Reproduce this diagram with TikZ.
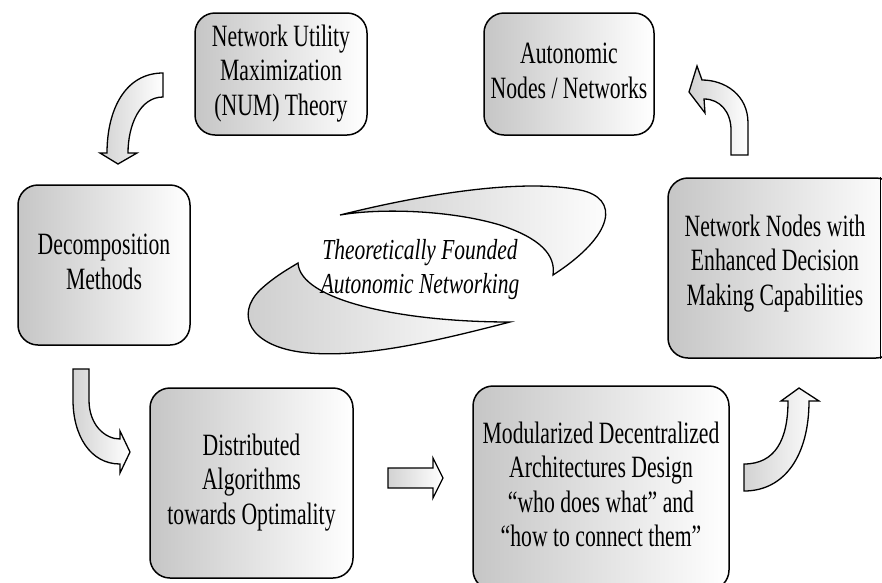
\documentclass[tikz,border=0pt]{standalone}
\usepackage{fontspec}
\setmainfont{Liberation Serif}
\usepackage{graphicx}
\newcommand{\sqtext}[1]{\scalebox{0.70}[1]{\begin{tabular}{@{}c@{}}#1\end{tabular}}}
\newcommand{\sqital}[1]{\scalebox{0.74}[1]{\begin{tabular}{@{}c@{}}#1\end{tabular}}}
\begin{document}
\begin{tikzpicture}[x=1pt,y=-1pt,
  box/.style={draw, line width=1.5pt, rounded corners=20pt, left color=gray!45, right color=white, inner sep=0pt, font=\fontsize{31}{34.5}\selectfont},
  txt/.style={font=\fontsize{31}{34.5}\selectfont, inner sep=0pt},
  barrow/.style={draw, line width=1.3pt, line join=miter, left color=gray!35, right color=white},
  swoosh/.style={draw, line width=1.3pt, left color=gray!40, right color=white}]
\useasboundingbox (0,0) rectangle (882,582);

% boxes
\node[box, minimum width=172pt, minimum height=122pt] (num) at (281,74) {\sqtext{Network Utility\\Maximization\\(NUM) Theory}};
\node[box, minimum width=170pt, minimum height=122pt] (aut) at (569,74) {\sqtext{Autonomic\\Nodes / Networks}};
\node[box, minimum width=172pt, minimum height=160pt] (dec) at (104,265) {\sqtext{Decomposition\\Methods}};
\node[box, minimum width=228pt, minimum height=180pt] (nn) at (782,268) {};
\node[txt] (nntext) at (775,264) {\sqtext{Network Nodes with\\Enhanced Decision\\Making Capabilities}};
\coordinate (rx) at (880.5,0);
\draw[line width=1.5pt] (nn.north -| rx) -- (nn.south -| rx);
\node[box, minimum width=203pt, minimum height=190pt] (dist) at (251.5,483) {\sqtext{Distributed\\Algorithms\\towards Optimality}};
\node[box, minimum width=256pt, minimum height=204pt] (mod) at (601,488) {\sqtext{Modularized Decentralized\\Architectures Design\\``who does what'' and\\``how to connect them''}};

% central swoosh
\path[swoosh] (340,215) .. controls (420,195) and (520,178) .. (580,190)
  .. controls (620,198) and (615,235) .. (553,275)
  .. controls (556,255) and (540,238) .. (500,225)
  .. controls (450,210) and (380,208) .. (340,215) -- cycle;
\path[swoosh] (298,263) .. controls (300,300) and (400,322) .. (510,322)
  .. controls (440,340) and (360,360) .. (300,352)
  .. controls (250,345) and (235,315) .. (260,290)
  .. controls (275,276) and (290,268) .. (298,263) -- cycle;
\node[font=\fontsize{29}{34}\selectfont\itshape, inner sep=0pt] (ctr) at (420,270) {\sqital{Theoretically Founded\\Autonomic Networking}};

% block arrows
\path[barrow] (163,73) -- (163,97) .. controls (140,97) and (128,125) .. (128,153)
  -- (137,153) -- (118,164) -- (100,153) -- (107,153)
  .. controls (107,110) and (125,73) .. (163,73) -- cycle;
\path[barrow] (73,369) -- (89,369) -- (89,400) .. controls (89,425) and (105,439) .. (120,439)
  -- (120,431) -- (130,452) -- (120,473) -- (120,464)
  .. controls (90,464) and (73,435) .. (73,400) -- cycle;
\path[barrow] (388,468) -- (433,468) -- (433,458) -- (443,478) -- (433,498) -- (433,488) -- (388,488) -- cycle;
\path[barrow] (744,491) -- (744,464) .. controls (775,464) and (788,440) .. (788,401)
  -- (781,401) -- (799,388) -- (819,401) -- (809,401)
  .. controls (809,455) and (785,491) .. (744,491) -- cycle;
\path[barrow] (731,155) -- (748,155) -- (748,123) .. controls (748,95) and (725,80) .. (702,80)
  -- (697,66) -- (689,92) -- (705,113) -- (704,99)
  .. controls (720,99) and (731,112) .. (731,130) -- cycle;
\end{tikzpicture}
\end{document}
